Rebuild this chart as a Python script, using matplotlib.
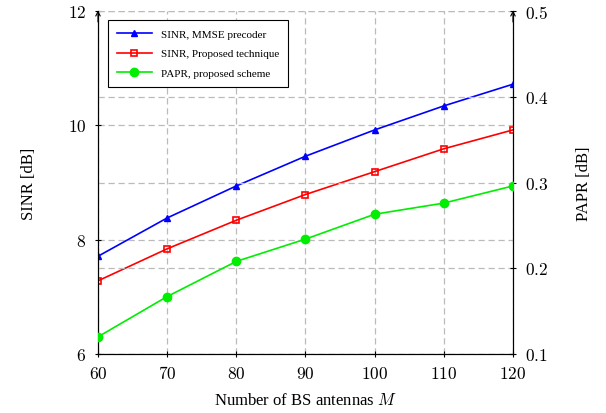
import matplotlib
matplotlib.use("Agg")
import matplotlib.pyplot as plt
from matplotlib.ticker import FuncFormatter

plt.rcParams['font.family'] = ['Liberation Serif', 'DejaVu Serif']
plt.rcParams['mathtext.fontset'] = 'cm'

# data
antennas = [60, 70, 80, 90, 100, 110, 120]
sinr_mmse = [7.71, 8.38, 8.94, 9.46, 9.92, 10.34, 10.72]
sinr_proposed = [7.28, 7.84, 8.34, 8.79, 9.19, 9.59, 9.92]
papr_proposed = [0.120, 0.167, 0.208, 0.234, 0.263, 0.276, 0.296]

fig = plt.figure(figsize=(6.06, 4.14), dpi=100)
ax1 = fig.add_axes([0.1617, 0.1425, 0.6848, 0.8285])
ax2 = ax1.twinx()

grid_kw = dict(color='#bbbbbb', ls=(0, (5, 3)), lw=0.9)

l1, = ax1.plot(antennas, sinr_mmse, color='blue', lw=1.2, marker='^', ms=5,
               label='SINR, MMSE precoder', zorder=5)
l2, = ax1.plot(antennas, sinr_proposed, color='red', lw=1.2, marker='s', ms=5,
               mfc='none', mew=1.2, label='SINR, Proposed technique', zorder=5)
l3, = ax2.plot(antennas, papr_proposed, color='#00ee00', lw=1.2, marker='o', ms=6,
               label='PAPR, proposed scheme', zorder=5)

ax1.set_xlim(60, 120)
ax1.set_ylim(6, 12)
ax2.set_ylim(0.1, 0.5)
ax1.set_yticks([6, 8, 10, 12])
ax2.set_yticks([0.1, 0.2, 0.3, 0.4, 0.5])

# tick labels in the math (Computer Modern) font, like the LaTeX original
ax1.set_xticks(antennas, [f'${v}$' for v in antennas], va='baseline')
ax1.yaxis.set_major_formatter(FuncFormatter(lambda v, p: f'${v:g}$'))
ax2.yaxis.set_major_formatter(FuncFormatter(lambda v, p: f'${v:.1f}$'))

ax1.grid(True, **grid_kw)
ax2.yaxis.grid(True, **grid_kw)
ax1.set_axisbelow(True)
ax2.set_axisbelow(True)

for a in (ax1, ax2):
    a.spines['top'].set_visible(False)
    a.tick_params(direction='inout', length=5, labelsize=12.5, width=0.8, pad=6)
    a.tick_params(axis='x', top=False)
ax1.tick_params(axis='x', pad=15)

ax1.set_xlabel('Number of BS antennas $M$', fontsize=12, labelpad=7)
ax1.set_ylabel('SINR [dB]', fontsize=12, labelpad=22)
ax2.set_ylabel('PAPR [dB]', fontsize=12, labelpad=20)

# arrowheads on the vertical axes
for xa in (0, 1):
    ax1.annotate('', xy=(xa, 1.01), xytext=(xa, 0.96), xycoords='axes fraction',
                 arrowprops=dict(arrowstyle='->', lw=0.8, color='black',
                                 mutation_scale=8))

leg = ax2.legend(handles=[l1, l2, l3], loc='upper left', fontsize=8,
                 fancybox=False, edgecolor='black', framealpha=1,
                 bbox_to_anchor=(0.01, 0.99), borderpad=0.8, labelspacing=0.9,
                 handlelength=3.2)
leg.get_frame().set_linewidth(0.8)
leg.set_zorder(10)

fig.savefig('out.png', dpi=100)
